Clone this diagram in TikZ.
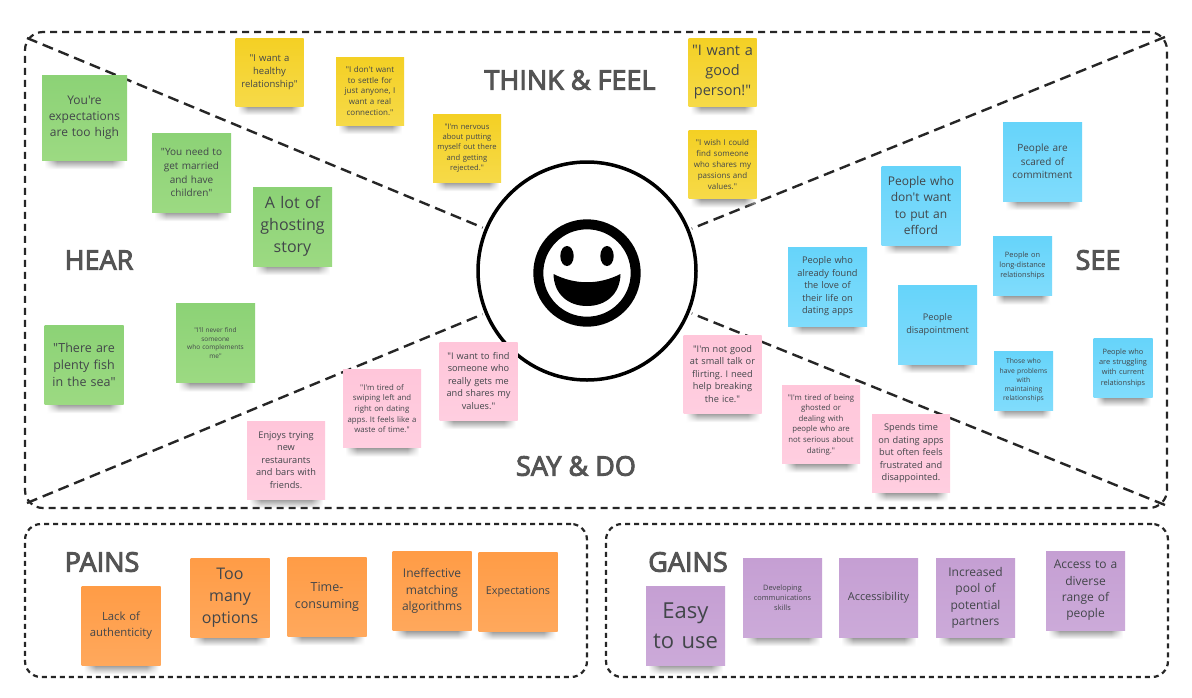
\documentclass[tikz,border=0pt]{standalone}
\usepackage{fontspec}
\setmainfont[Ligatures=TeXOff]{Open Sans}
\newfontfamily\titlefont[Ligatures=TeXOff,FakeBold=3.5]{Open Sans}
\usepackage{xcolor}
\usetikzlibrary{fadings}
\definecolor{myink}{RGB}{66, 70, 74}
\definecolor{mytitle}{RGB}{84, 84, 84}
\definecolor{mygreentop}{RGB}{140, 210, 118}
\definecolor{mygreenbot}{RGB}{156, 218, 130}
\definecolor{myyellowtop}{RGB}{244, 208, 36}
\definecolor{myyellowbot}{RGB}{246, 218, 72}
\definecolor{mypinktop}{RGB}{255, 198, 218}
\definecolor{mypinkbot}{RGB}{255, 206, 224}
\definecolor{mybluetop}{RGB}{102, 212, 250}
\definecolor{mybluebot}{RGB}{128, 220, 252}
\definecolor{myorangetop}{RGB}{255, 156, 70}
\definecolor{myorangebot}{RGB}{255, 168, 92}
\definecolor{mypurpletop}{RGB}{197, 159, 211}
\definecolor{mypurplebot}{RGB}{204, 170, 217}
\pgfdeclarehorizontalshading{shadowband}{100bp}{color(0bp)=(white); color(25bp)=(white); color(33bp)=(black!50); color(67bp)=(black!50); color(75bp)=(white); color(100bp)=(white)}
\tikzset{
  note/.style={inner sep=1pt, text=myink, align=center},
  greennote/.style={note, top color=mygreentop, bottom color=mygreenbot},
  yellownote/.style={note, top color=myyellowtop, bottom color=myyellowbot},
  pinknote/.style={note, top color=mypinktop, bottom color=mypinkbot},
  bluenote/.style={note, top color=mybluetop, bottom color=mybluebot},
  orangenote/.style={note, top color=myorangetop, bottom color=myorangebot},
  purplenote/.style={note, top color=mypurpletop, bottom color=mypurplebot},
  boxtitle/.style={text=mytitle, font=\fontsize{27}{32}\titlefont},
  frameline/.style={draw=black!85, line width=2.2pt, dash pattern=on 7pt off 5pt},
  smallframe/.style={frameline, dash pattern=on 5pt off 4pt, rounded corners=16pt, minimum height=153pt, minimum width=562pt}
}

\begin{document}
\begin{tikzpicture}[x=1pt,y=-1pt]
  \useasboundingbox (0,0) rectangle (1192,697);
  \fill[white] (0,0) rectangle (1192,697);

  %Frames
  \node[smallframe] (painsframe) at (306,600.5) {};
  \node[smallframe] (gainsframe) at (887,600.5) {};
  \node[frameline, rounded corners=18pt, minimum width=1142pt, minimum height=476pt] (mainframe) at (596,270) {};

  %Center circle, lines end on it
  \node[circle, draw=black, line width=3.5pt, minimum size=218pt, outer sep=4pt] (face) at (587,271) {};
  \coordinate (cornerTL) at (27,38);
  \coordinate (cornerTR) at (1165,37);
  \coordinate (cornerBL) at (27,503);
  \coordinate (cornerBR) at (1165,505);
  \foreach \c in {cornerTL,cornerTR,cornerBL,cornerBR}
  {
    \draw[black!85, line width=2.4pt, dash pattern=on 11pt off 6pt] (\c) -- (face);
  }

  %Smiley
  \draw[line width=10pt] (587,273) circle (48.7);
  \fill (567,256) ellipse (6.7 and 10);
  \fill (607,256) ellipse (6.7 and 10);
  \fill (553.5,274) .. controls (575,285) and (599,285) .. (620.5,274)
    .. controls (620,295) and (605,306) .. (587,306)
    .. controls (569,306) and (554,295) .. (553.5,274);

  %Titles
  \node[boxtitle] (thinkfeel) at (570,80) {THINK \& FEEL};
  \node[boxtitle] (hear) at (99,260) {HEAR};
  \node[boxtitle] (see) at (1098,260) {SEE};
  \node[boxtitle] (saydo) at (576,466) {SAY \& DO};
  \node[boxtitle] (pains) at (102,562) {PAINS};
  \node[boxtitle] (gains) at (688,562) {GAINS};

  %Sticky notes: style, name, center, size, font size, text
  \foreach \kind/\nm/\cx/\cy/\sz/\fs/\txt in {
    greennote/expect/84.5/117.5/85/12/{You're\\expectations\\are too high},
    greennote/married/191.5/172.5/79/10/{"You need to\\get married\\and have\\children"},
    greennote/ghosting/292.5/226.5/79/16/{A lot of\\ghosting\\story},
    greennote/fish/84/364.5/79/12.5/{"There are\\plenty fish\\in the sea"},
    greennote/never/215.5/343/79/6.5/{"I'll never find\\someone\\who complements\\me"},
    yellownote/healthy/269.5/72/68/9.5/{"I want a\\healthy\\relationship"},
    yellownote/settle/370/91/68/8/{"I don't want\\to settle for\\just anyone, I\\want a real\\connection."},
    yellownote/nervous/467/148/68/7.6/{"I'm nervous\\about putting\\myself out there\\and getting\\rejected."},
    yellownote/goodperson/722.5/72/68/14.5/{"I want a\\good\\person!"},
    yellownote/wish/722.5/164.5/68/8/{"I wish I could\\find someone\\who shares my\\passions and\\values."},
    pinknote/enjoys/286/460/78/9.2/{Enjoys trying\\new\\restaurants\\and bars with\\friends.},
    pinknote/swiping/382/408.5/78/7.8/{"I'm tired of\\swiping left and\\right on dating\\apps. It feels like a\\waste of time."},
    pinknote/findsome/478.5/381/78/9.2/{"I want to find\\someone who\\really gets me\\and shares my\\values."},
    pinknote/smalltalk/722.5/374/78/9.2/{"I'm not good\\at small talk or\\flirting. I need\\help breaking\\the ice."},
    pinknote/ghosted/821/424.5/78/7.8/{"I'm tired of being\\ghosted or\\dealing with\\people who are\\not serious about\\dating."},
    pinknote/spends/911/453.5/78/9.2/{Spends time\\on dating apps\\but often feels\\frustrated and\\disappointed.},
    bluenote/scared/1042.5/161.5/79/10/{People are\\scared of\\commitment},
    bluenote/effort/921/205.5/79/12/{People who\\don't want\\to put an\\efford},
    bluenote/already/827.5/286.5/79/9.2/{People who\\already found\\the love of\\their life on\\dating apps},
    bluenote/disappoint/937.5/324.5/79/9.2/{People\\disapointment},
    bluenote/longdist/1022.5/266/59/7.4/{People on\\long-distance\\relationships},
    bluenote/maintain/1023.5/380.5/59/6.8/{Those who\\have problems\\with\\maintaining\\relationships},
    bluenote/struggle/1123/368/59/7.4/{People who\\are struggling\\with current\\relationships},
    orangenote/lack/121/625.5/79/11.3/{Lack of\\authenticity},
    orangenote/toomany/230/597.5/79/16/{Too\\many\\options},
    orangenote/timecons/327/596.5/79/12.5/{Time-\\consuming},
    orangenote/ineffect/432/591/79/12/{Ineffective\\matching\\algorithms},
    orangenote/expectations/518/591.5/79/10.8/{Expectations},
    purplenote/easy/685.5/625.5/79/22/{Easy\\to use},
    purplenote/develop/782.5/597.5/79/7.4/{Developing\\communications\\skills},
    purplenote/access/878.5/598/79/11/{Accessibility},
    purplenote/pool/975.5/598/79/12/{Increased\\pool of\\potential\\partners},
    purplenote/diverse/1085.5/590.5/79/12/{Access to a\\diverse\\range of\\people}%
  }
  {
    \pgfmathsetmacro{\ls}{1.36*\fs}
    \shade[shading=shadowband, path fading=south] ({\cx-\sz/2+2},{\cy+\sz/2-2}) rectangle ({\cx+\sz/2-2},{\cy+\sz/2+9});
    \node[\kind, minimum size=\sz pt, text width=\sz pt-4pt, font=\frenchspacing\fontsize{\fs}{\ls}\selectfont] (\nm) at (\cx,\cy) {\txt};
  }
\end{tikzpicture}
\end{document}
